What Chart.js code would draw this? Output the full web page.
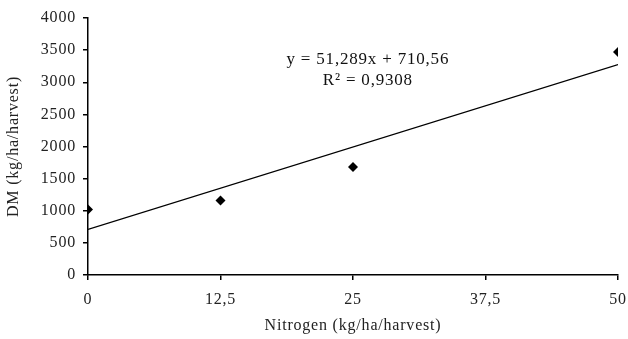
<!DOCTYPE html>
<html>
<head>
<meta charset="utf-8">
<script src="https://cdn.jsdelivr.net/npm/chart.js@4"></script>
<style>
  html, body { margin: 0; padding: 0; background: #fff; }
  #wrap { width: 628px; height: 339px; }
</style>
</head>
<body>
<div id="wrap"><canvas id="c" width="628" height="339"></canvas></div>
<script>
// data
const nitrogen = [0, 12.5, 25, 50];
const dmValues = [1020, 1160, 1680, 3470];
const xTicks = [0, 12.5, 25, 37.5, 50];
const trendSlope = 51.289;
const trendIntercept = 710.56;
const trendX = [0, 50];
const eqLine1 = "y = 51,289x + 710,56";
const eqLine2 = "R² = 0,9308";

const FONT = "'Liberation Serif', 'Times New Roman', serif";

const points = nitrogen.map((x, i) => ({ x, y: dmValues[i] }));
const trend = trendX.map(x => ({ x, y: trendSlope * x + trendIntercept }));

// the original text is a bit wider than Liberation Serif, so spread letters
const spacingPlugin = {
  id: "spacing",
  beforeDraw(chart) { chart.ctx.letterSpacing = "0.8px"; }
};

// equation text next to the trend line
const eqPlugin = {
  id: "eq",
  afterDraw(chart) {
    const ctx = chart.ctx;
    const xs = chart.scales.x, ys = chart.scales.y;
    const cx = xs.getPixelForValue(26.4);
    ctx.save();
    ctx.fillStyle = "#111";
    ctx.font = "17px " + FONT;
    ctx.letterSpacing = "0.8px";
    ctx.textAlign = "center";
    ctx.textBaseline = "middle";
    ctx.fillText(eqLine1, cx, ys.getPixelForValue(3350));
    ctx.fillText(eqLine2, cx, ys.getPixelForValue(3020));
    ctx.restore();
  }
};

new Chart(document.getElementById("c"), {
  type: "scatter",
  data: {
    datasets: [
      {
        data: points,
        pointStyle: "rectRot",
        pointRadius: 5,
        pointHoverRadius: 5,
        backgroundColor: "#000",
        borderColor: "#000",
        borderWidth: 0
      },
      {
        type: "line",
        data: trend,
        borderColor: "#000",
        borderWidth: 1.3,
        pointRadius: 0,
        fill: false
      }
    ]
  },
  options: {
    responsive: false,
    animation: false,
    layout: { padding: { top: 18, right: 10, left: 0, bottom: 0 } },
    plugins: { legend: { display: false }, tooltip: { enabled: false } },
    scales: {
      x: {
        type: "linear",
        min: 0, max: 50,
        afterBuildTicks: s => { s.ticks = xTicks.map(v => ({ value: v })); },
        afterFit: s => { s.height = 64; s.paddingRight = 0; s.paddingLeft = 0; },
        border: { color: "#000", width: 1.5 },
        grid: { display: true, drawOnChartArea: false, drawTicks: true, tickLength: 5, color: "#000", lineWidth: 1.5 },
        ticks: {
          color: "#222",
          font: { family: FONT, size: 16 },
          padding: 10,
          callback: v => String(v).replace(".", ",")
        },
        title: {
          display: true,
          text: "Nitrogen (kg/ha/harvest)",
          color: "#222",
          font: { family: FONT, size: 16 },
          padding: { top: 6 }
        }
      },
      y: {
        min: 0, max: 4000,
        ticks: {
          stepSize: 500,
          color: "#222",
          font: { family: FONT, size: 16 },
          padding: 7,
          callback: v => String(v)
        },
        afterFit: s => { s.width = 88; },
        border: { color: "#000", width: 1.5 },
        grid: { display: true, drawOnChartArea: false, drawTicks: true, tickLength: 5, color: "#000", lineWidth: 1.5 },
        title: {
          display: true,
          text: "DM (kg/ha/harvest)",
          color: "#222",
          font: { family: FONT, size: 16 },
          padding: { top: 4, bottom: 0 }
        }
      }
    }
  },
  plugins: [spacingPlugin, eqPlugin]
});
</script>
</body>
</html>
